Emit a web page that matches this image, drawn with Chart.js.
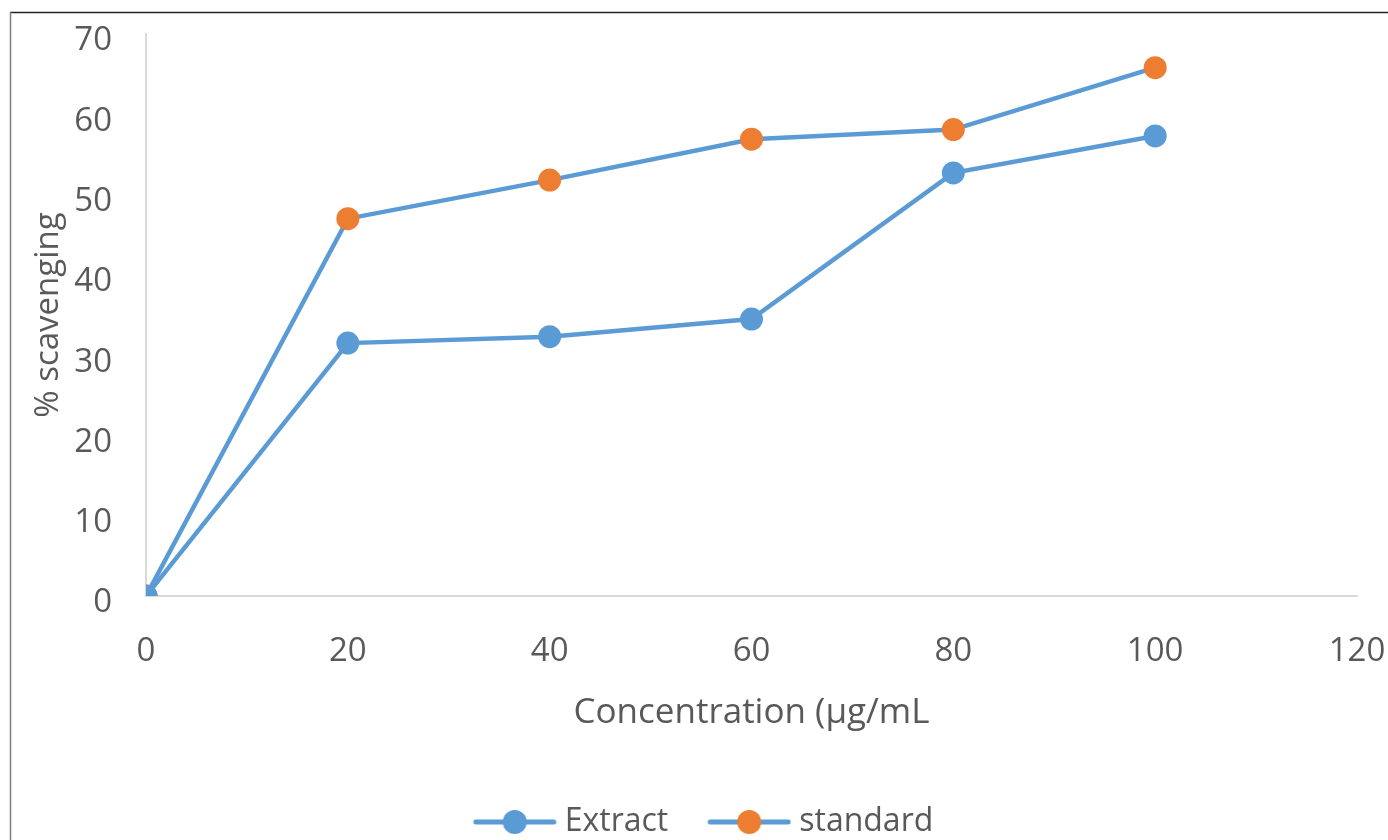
<!DOCTYPE html>
<html>
<head>
<meta charset="utf-8">
<script src="https://cdn.jsdelivr.net/npm/chart.js@4.4.0/dist/chart.umd.min.js"></script>
<style>
  body { margin: 0; background: #fff; }
  #wrap { width: 1388px; height: 840px; position: relative; }
</style>
</head>
<body>
<div id="wrap"><canvas id="scavChart" width="1388" height="840"></canvas></div>
<script>
// concentration (µg/mL) and % scavenging
const concentrations = [0, 20, 40, 60, 80, 100];
const extractValues = [0, 31.5, 32.3, 34.5, 52.7, 57.3];
const standardValues = [0, 47.0, 51.8, 56.9, 58.1, 65.8];
const xTicks = [0, 20, 40, 60, 80, 100, 120];
const yTicks = [0, 10, 20, 30, 40, 50, 60, 70];

const lineBlue = '#5b9bd5';
const dotOrange = '#ed7d31';
const textGrey = '#595959';
const FONT = "'Open Sans', sans-serif";
const LEFT = 57;  // outer left padding, legend is centred between this and the right edge

// legend marker: line with a dot in the middle
function makeMarker(dotColor) {
    const c = document.createElement('canvas');
    c.width = 84; c.height = 26;
    const g = c.getContext('2d');
    g.strokeStyle = lineBlue;
    g.lineWidth = 5;
    g.lineCap = 'round';
    g.beginPath();
    g.moveTo(3, 13);
    g.lineTo(81, 13);
    g.stroke();
    g.fillStyle = dotColor;
    g.beginPath();
    g.arc(42, 13, 12, 0, Math.PI * 2);
    g.fill();
    return c;
}

const frame = {
    id: 'frame',
    beforeDraw(chart) {
        const c = chart.ctx;
        c.save();
        c.lineWidth = 1.5;
        c.strokeStyle = '#222';
        c.beginPath(); c.moveTo(10, 12.5); c.lineTo(1388, 12.5); c.stroke();
        c.strokeStyle = '#7f7f7f';
        c.beginPath(); c.moveTo(10.5, 12); c.lineTo(10.5, 840); c.stroke();
        c.restore();
    }
};

const toPoints = (ys) => concentrations.map((x, i) => ({ x: x, y: ys[i] }));

const ctx = document.getElementById('scavChart').getContext('2d');
const scavChart = new Chart(ctx, {
    type: 'line',
    data: {
        datasets: [{
            label: 'Extract',
            data: toPoints(extractValues),
            borderColor: lineBlue,
            backgroundColor: lineBlue,
            pointBackgroundColor: lineBlue,
            pointBorderWidth: 0,
            pointRadius: 11.5,
            borderWidth: 4.5,
            tension: 0,
            marker: makeMarker(lineBlue)
        }, {
            label: 'standard',
            data: toPoints(standardValues),
            borderColor: lineBlue,
            backgroundColor: dotOrange,
            pointBackgroundColor: dotOrange,
            pointBorderWidth: 0,
            pointRadius: 11.5,
            borderWidth: 4.5,
            tension: 0,
            marker: makeMarker(dotOrange)
        }]
    },
    options: {
        responsive: false,
        animation: false,
        layout: { padding: { left: LEFT, top: 34, right: 31, bottom: -8 } },
        plugins: {
            tooltip: { enabled: false },
            legend: {
                position: 'bottom',
                labels: {
                    usePointStyle: true,
                    pointStyleWidth: 68,
                    padding: 47,
                    color: textGrey,
                    font: { family: FONT, size: 32 },
                    generateLabels: (chart) => chart.data.datasets.map((ds, i) => ({
                        text: ds.label,
                        pointStyle: ds.marker,
                        fillStyle: ds.backgroundColor,
                        strokeStyle: ds.borderColor,
                        lineWidth: 0,
                        fontColor: textGrey,
                        datasetIndex: i,
                        hidden: false
                    }))
                }
            }
        },
        scales: {
            x: {
                type: 'linear',
                min: 0,
                max: 120,
                afterBuildTicks: (s) => { s.ticks = xTicks.map(v => ({ value: v })); },
                afterFit: (s) => {
                    s.height = 163;
                    s.paddingLeft = 0; s.paddingRight = 0; s.paddingTop = 0; s.paddingBottom = 0;
                },
                grid: { color: 'rgba(0,0,0,0)', drawTicks: false },
                border: { color: '#d9d9d9', width: 2 },
                ticks: { color: textGrey, font: { family: FONT, size: 33 }, padding: 36, maxRotation: 0 },
                title: {
                    display: true,
                    text: 'Concentration (µg/mL',
                    color: textGrey,
                    font: { family: FONT, size: 35 },
                    padding: { top: 0, bottom: 25 }
                }
            },
            y: {
                min: 0,
                max: 70,
                afterBuildTicks: (s) => { s.ticks = yTicks.map(v => ({ value: v })); },
                afterFit: (s) => {
                    s.width = 146 - LEFT;
                    s.paddingLeft = 0; s.paddingRight = 0; s.paddingTop = 0; s.paddingBottom = 0;
                },
                grid: { color: 'rgba(0,0,0,0)', drawTicks: false },
                border: { color: '#d9d9d9', width: 2 },
                ticks: { color: textGrey, font: { family: FONT, size: 33 }, padding: 34, labelOffset: 7 },
                title: {
                    display: true,
                    text: '% scavenging',
                    color: textGrey,
                    font: { family: FONT, size: 33 },
                    padding: { top: 49 - 19.8 - LEFT, bottom: 0 }
                }
            }
        }
    },
    plugins: [frame]
});
</script>
</body>
</html>
